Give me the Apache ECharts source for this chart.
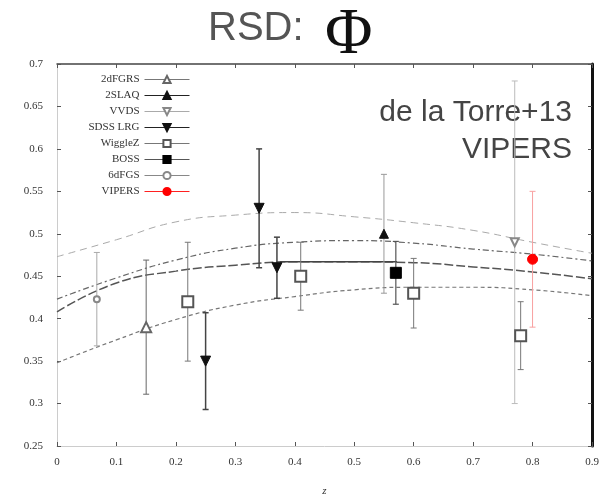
<!DOCTYPE html>
<html>
<head>
<meta charset="utf-8">
<script src="https://cdn.jsdelivr.net/npm/echarts@6/dist/echarts.min.js"></script>
<style>
  html, body { margin: 0; padding: 0; background: #fff; }
  #main { width: 603px; height: 497px; }
</style>
</head>
<body>
<div id="main"></div>
<script>
// model curves (f sigma8 vs z)
var zGrid  = [0, 0.1, 0.2, 0.3, 0.4, 0.5, 0.6, 0.7, 0.8, 0.9];
var modelA = [0.473, 0.493, 0.514, 0.522, 0.525, 0.520, 0.513, 0.504, 0.490, 0.477];
var modelB = [0.423, 0.448, 0.469, 0.483, 0.490, 0.492, 0.489, 0.482, 0.476, 0.468];
var modelC = [0.408, 0.442, 0.456, 0.463, 0.467, 0.467, 0.466, 0.461, 0.455, 0.447];
var modelD = [0.348, 0.375, 0.399, 0.416, 0.426, 0.434, 0.437, 0.437, 0.434, 0.427];
var refZ = [0.375, 0.572];
var refF = [0.467, 0.467];

// measurements
var surveys = ['2dFGRS', '2SLAQ', 'VVDS', 'SDSS LRG', 'WiggleZ', 'BOSS', '6dFGS', 'VIPERS'];
var zDF = [0.15],  fDF = [0.39],  eDF = [0.079];
var zSL = [0.55],  fSL = [0.50],  eSL = [0.07];
var zVV = [0.77],  fVV = [0.49],  eVV = [0.19];
var zLRG = [0.25, 0.34, 0.37], fLRG = [0.35, 0.53, 0.46], eLRG = [0.057, 0.07, 0.036];
var zWZ = [0.22, 0.41, 0.60, 0.78], fWZ = [0.42, 0.45, 0.43, 0.38], eWZ = [0.07, 0.04, 0.041, 0.04];
var zBO = [0.57],  fBO = [0.454], eBO = [0.037];
var z6 = [0.067],  f6 = [0.423],  e6 = [0.055];
var zVI = [0.80],  fVI = [0.47],  eVI = [0.08];

var xTicks = ['0', '0.1', '0.2', '0.3', '0.4', '0.5', '0.6', '0.7', '0.8', '0.9'];

function pairs(xs, ys) { return xs.map(function (x, i) { return [x, ys[i]]; }); }
function bars(xs, ys, es) { return xs.map(function (x, i) { return [x, ys[i] - es[i], ys[i] + es[i]]; }); }

var serif = 'Liberation Serif';

function errSeries(name, data, color, width) {
  return {
    name: name + ' err', type: 'custom', data: data, z: 2, silent: true,
    encode: { x: 0, y: [1, 2] },
    renderItem: function (params, api) {
      var lo = api.coord([api.value(0), api.value(1)]);
      var hi = api.coord([api.value(0), api.value(2)]);
      var c = 3;
      var st = { stroke: color, lineWidth: width };
      return { type: 'group', children: [
        { type: 'line', shape: { x1: lo[0], y1: lo[1], x2: hi[0], y2: hi[1] }, style: st },
        { type: 'line', shape: { x1: lo[0] - c, y1: lo[1], x2: lo[0] + c, y2: lo[1] }, style: st },
        { type: 'line', shape: { x1: hi[0] - c, y1: hi[1], x2: hi[0] + c, y2: hi[1] }, style: st }
      ] };
    }
  };
}

function ptSeries(name, data, symbol, size, color, rotate) {
  return {
    name: name, type: 'line', data: data, z: 4,
    symbol: symbol, symbolSize: size, symbolRotate: rotate || 0,
    showAllSymbol: true,
    itemStyle: { color: color, borderColor: color, borderWidth: 1 },
    lineStyle: { opacity: 0 }
  };
}

function curve(data, color, width, dash) {
  return {
    type: 'line', data: data, smooth: true, symbol: 'none', z: 1, silent: true,
    lineStyle: { color: color, width: width, type: dash }
  };
}

var legendStyle = {
  '2dFGRS': '#777', '2SLAQ': '#222', 'VVDS': '#aaa', 'SDSS LRG': '#222',
  'WiggleZ': '#777', 'BOSS': '#555', '6dFGS': '#888', 'VIPERS': '#ff2020'
};

var chart = echarts.init(document.getElementById('main'));
chart.setOption({
  animation: false,
  backgroundColor: '#fff',
  grid: { left: 57, right: 11, top: 64, bottom: 51, outerBoundsMode: 'none' },
  xAxis: [{
    type: 'value', min: 0, max: 0.9, interval: 0.1,
    name: 'z', nameLocation: 'middle', nameGap: 40,
    nameTextStyle: { fontFamily: serif, fontStyle: 'italic', fontSize: 11, color: '#333' },
    axisLine: { show: true, onZero: false, lineStyle: { color: '#ccc', width: 1 } },
    axisTick: { show: true, inside: true, length: 4, lineStyle: { color: '#555' } },
    axisLabel: { fontFamily: serif, fontSize: 11, color: '#333', margin: 11,
      formatter: function (v) { return xTicks[Math.round(v * 10)]; } },
    splitLine: { show: false }
  }, {
    type: 'value', min: 0, max: 0.9, interval: 0.1, position: 'top',
    axisLine: { show: true, onZero: false, lineStyle: { color: '#444', width: 1.5 } },
    axisTick: { show: true, inside: true, length: 4, lineStyle: { color: '#555' } },
    axisLabel: { show: false }, splitLine: { show: false }
  }],
  yAxis: [{
    type: 'value', min: 0.25, max: 0.7, interval: 0.05,
    axisLine: { show: true, onZero: false, lineStyle: { color: '#ccc', width: 1 } },
    axisTick: { show: true, inside: true, length: 4, lineStyle: { color: '#555' } },
    axisLabel: { fontFamily: serif, fontSize: 11, color: '#333', margin: 14,
      formatter: function (v) { return +v.toFixed(2) + ''; } },
    splitLine: { show: false }
  }, {
    type: 'value', min: 0.25, max: 0.7, interval: 0.05, position: 'right',
    axisLine: { show: true, onZero: false, lineStyle: { color: '#111', width: 3 } },
    axisTick: { show: true, inside: true, length: 4, lineStyle: { color: '#555' } },
    axisLabel: { show: false }, splitLine: { show: false }
  }],
  legend: {
    orient: 'vertical', align: 'right', right: 408, top: 69,
    itemWidth: 45, itemHeight: 9, itemGap: 5,
    textStyle: { fontFamily: serif, fontSize: 11, color: '#333' },
    data: surveys.map(function (n) {
      return { name: n, lineStyle: { opacity: 1, width: 1, color: legendStyle[n], type: 'solid' } };
    })
  },
  graphic: [
    { type: 'text', left: 208, top: 9, style: { text: 'RSD:', font: '40px "Liberation Sans"', fill: '#555' } },
    { type: 'text', left: 325, top: 3, style: { text: 'Φ', font: '65px "Liberation Serif"', fill: '#111' } },
    { type: 'text', right: 31, top: 98, style: { text: 'de la Torre+13', font: '30px "Liberation Sans"', fill: '#444' } },
    { type: 'text', right: 31, top: 135, style: { text: 'VIPERS', font: '30px "Liberation Sans"', fill: '#444' } }
  ],
  series: [
    curve(pairs(zGrid, modelA), '#aaa', 1, [7, 5]),
    curve(pairs(zGrid, modelB), '#666', 1.2, [6, 3, 2, 3]),
    curve(pairs(zGrid, modelC), '#555', 1.5, [9, 3]),
    curve(pairs(zGrid, modelD), '#777', 1.2, [4, 3]),
    { type: 'line', data: pairs(refZ, refF), symbol: 'none', z: 1, silent: true,
      lineStyle: { color: '#444', width: 1.5 } },

    errSeries('2dFGRS', bars(zDF, fDF, eDF), '#666', 1),
    errSeries('2SLAQ', bars(zSL, fSL, eSL), '#999', 1),
    errSeries('VVDS', bars(zVV, fVV, eVV), '#bbb', 1),
    errSeries('SDSS LRG', bars(zLRG, fLRG, eLRG), '#444', 1.5),
    errSeries('WiggleZ', bars(zWZ, fWZ, eWZ), '#777', 1),
    errSeries('BOSS', bars(zBO, fBO, eBO), '#555', 1.2),
    errSeries('6dFGS', bars(z6, f6, e6), '#aaa', 1),
    errSeries('VIPERS', bars(zVI, fVI, eVI), '#f8a0a0', 1),

    ptSeries('2dFGRS', pairs(zDF, fDF), 'emptyTriangle', 10, '#666'),
    ptSeries('2SLAQ', pairs(zSL, fSL), 'triangle', 9, '#111'),
    ptSeries('VVDS', pairs(zVV, fVV), 'emptyTriangle', 8, '#888', 180),
    ptSeries('SDSS LRG', pairs(zLRG, fLRG), 'triangle', 10, '#111', 180),
    ptSeries('WiggleZ', pairs(zWZ, fWZ), 'emptyRect', 11, '#555'),
    ptSeries('BOSS', pairs(zBO, fBO), 'rect', 11, '#000'),
    ptSeries('6dFGS', pairs(z6, f6), 'emptyCircle', 6, '#888'),
    ptSeries('VIPERS', pairs(zVI, fVI), 'circle', 10, '#ff0000')
  ]
});
</script>
</body>
</html>
